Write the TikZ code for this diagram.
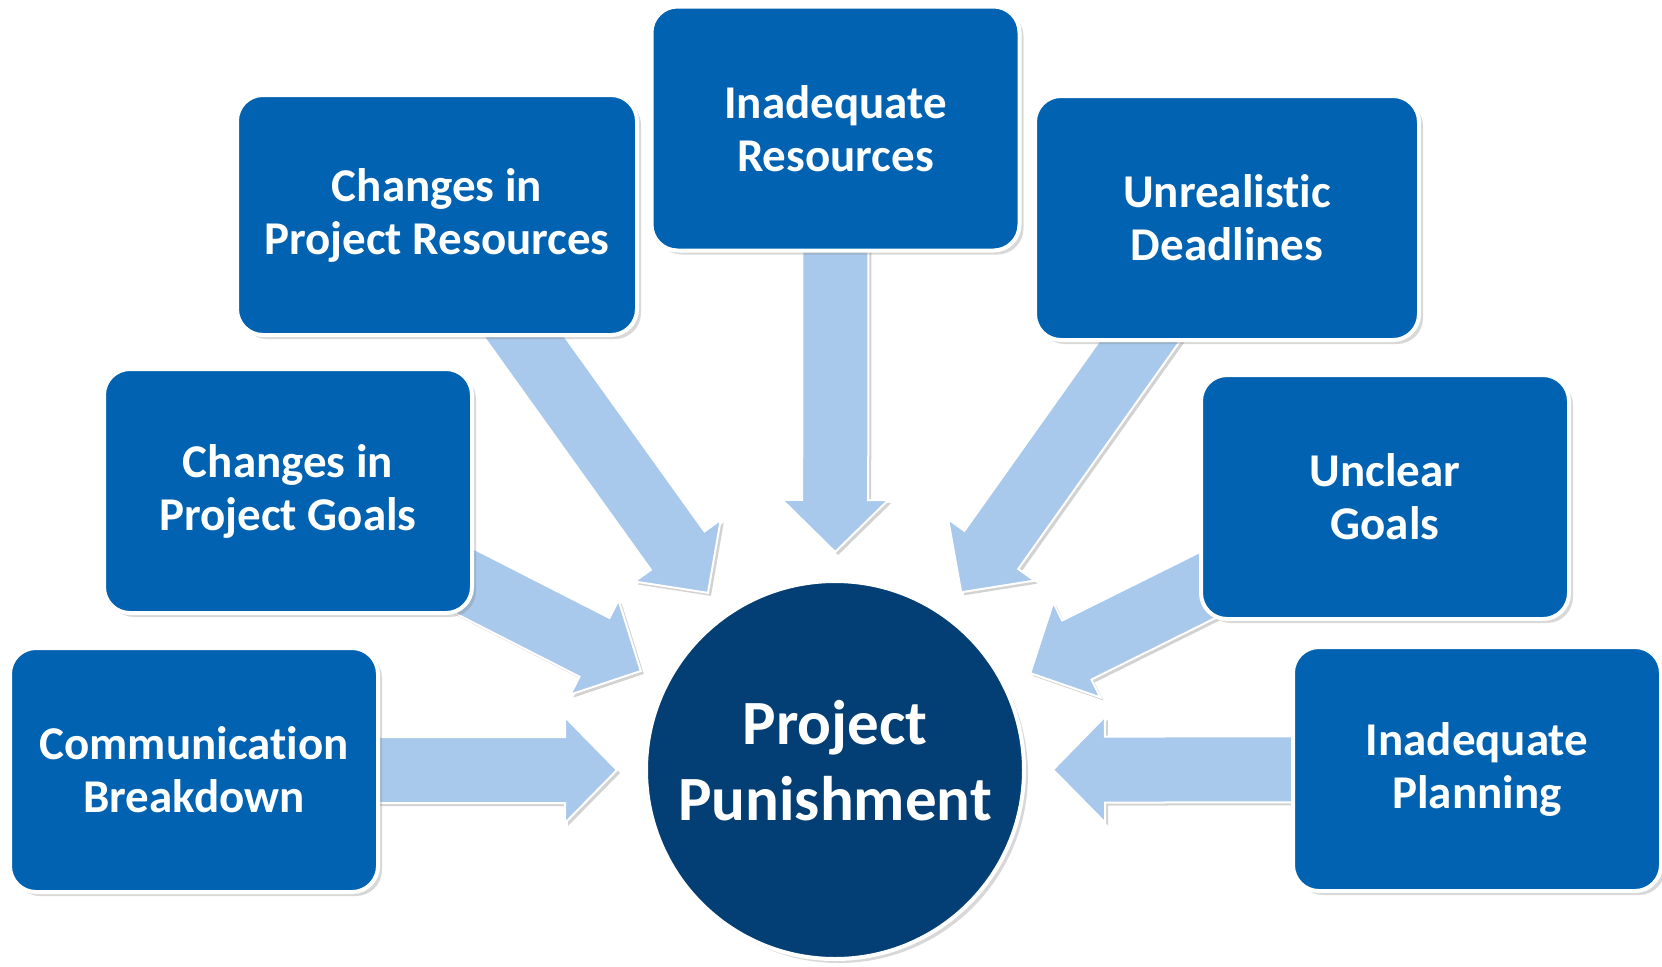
\documentclass[tikz,border=0pt]{standalone}
\usepackage{fontspec}
\setmainfont{Carlito}[Ligatures=NoCommon]
\usetikzlibrary{calc, shadows, backgrounds}
\definecolor{CauseBlue}{HTML}{0062B1}
\definecolor{HubNavy}{HTML}{033F74}
\definecolor{ArrowSky}{HTML}{A8C8EC}

\tikzset{
  causebox/.style={rectangle, rounded corners=13pt, draw=white, line width=2pt,
                   fill=CauseBlue, text=white, align=center, inner sep=0pt,
                   font=\fontsize{23.5}{26.5}\selectfont\bfseries,
                   minimum width=184pt, minimum height=122pt,
                   drop shadow={shadow xshift=2pt, shadow yshift=-2pt, opacity=0.3}},
  hub/.style={circle, draw=white, line width=2pt, fill=HubNavy, text=white,
              align=center, inner sep=0pt, minimum size=189pt, text depth=10pt,
              font=\fontsize{31.5}{38}\selectfont\bfseries,
              drop shadow={shadow xshift=2pt, shadow yshift=-2pt, opacity=0.3}},
  flowarrow/.style={fill=ArrowSky, draw=white, line width=1pt, line join=miter,
                    drop shadow={shadow xshift=1.5pt, shadow yshift=-1.5pt, opacity=0.35}}
}

% block arrow from the centre of a cause box towards the hub
\newcommand{\pusharrow}[2]{%
  \path ($(#2.center)!109pt!(#1.center)$) coordinate (tip)
        ($(tip)!26pt!(#1.center)$) coordinate (neck);
  \path[flowarrow]
    ($(#1.center)!16.5pt!90:(#2.center)$) -- ($(neck)!16.5pt!90:(tip)$)
    -- ($(neck)!26.5pt!90:(tip)$) -- (tip)
    -- ($(neck)!26.5pt!-90:(tip)$) -- ($(neck)!16.5pt!-90:(tip)$)
    -- ($(#1.center)!16.5pt!-90:(#2.center)$) -- cycle;
}

\begin{document}
\begin{tikzpicture}[x=0.5pt, y=-0.5pt]
\useasboundingbox (0,0) rectangle (1662,966);

% centre
\node[hub] (punish) at (835,770) {Project\\Punishment};

% causes
\node[causebox] (comm)   at (194,770)    {Communication\\Breakdown};
\node[causebox] (pgoals) at (288,491)    {Changes in\\Project Goals};
\node[causebox, minimum width=200pt, minimum height=120pt]
                (pres)   at (437,215)    {Changes in\\Project Resources};
\node[causebox] (ires)   at (835.5,128.5){Inadequate\\Resources};
\node[causebox, minimum width=192pt]
                (udead)  at (1227,218)   {Unrealistic\\Deadlines};
\node[causebox] (ugoals) at (1385,497)   {Unclear\\Goals};
\node[causebox] (iplan)  at (1477,769)   {Inadequate\\Planning};

% arrows underneath the boxes
\begin{scope}[on background layer]
  \fill[white] (0,0) rectangle (1662,966);
  \foreach \src in {comm, pgoals, pres, ires, udead, ugoals, iplan}
    \pusharrow{\src}{punish};
\end{scope}
\end{tikzpicture}
\end{document}
